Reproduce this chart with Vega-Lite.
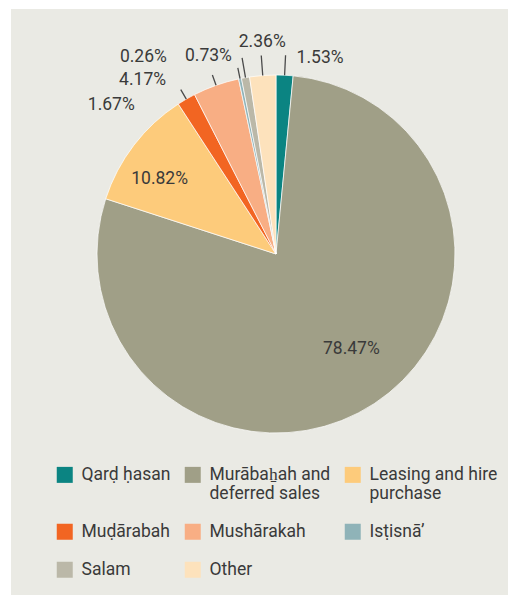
{
  "$schema": "https://vega.github.io/schema/vega-lite/v6.json",
  "background": "white",
  "padding": {"left": 11, "top": 9, "right": 0, "bottom": 0},
  "bounds": "flush",
  "spacing": 0,
  "columns": 2,
  "config": {
    "view": {"fill": "#EAEAE4", "stroke": null},
    "style": {"cell": {"fill": "#EAEAE4", "stroke": null}},
    "concat": {"spacing": 0},
    "font": "Roboto"
  },
  "data": {
    "values": [
      {"idx": 1, "cat": "Qarḍ ḥasan", "value": 1.53, "label": "1.53%"},
      {"idx": 2, "cat": "Murābaẖah and deferred sales", "value": 78.47, "label": "78.47%"},
      {"idx": 3, "cat": "Leasing and hire purchase", "value": 10.82, "label": "10.82%"},
      {"idx": 4, "cat": "Muḍārabah", "value": 1.67, "label": "1.67%"},
      {"idx": 5, "cat": "Mushārakah", "value": 4.17, "label": "4.17%"},
      {"idx": 6, "cat": "Isṭisnā’", "value": 0.26, "label": "0.26%"},
      {"idx": 7, "cat": "Salam", "value": 0.73, "label": "0.73%"},
      {"idx": 8, "cat": "Other", "value": 2.36, "label": "2.36%"}
    ]
  },
  "concat": [
    {"width": 33, "height": 490, "view": {"fill": "#EAEAE4", "stroke": null}, "data": {"values": []}, "mark": "point"},
    {
      "width": 464,
      "height": 490,
      "view": {"fill": "#EAEAE4", "stroke": null},
      "encoding": {
        "theta": {"field": "value", "type": "quantitative", "stack": true},
        "order": {"field": "idx", "type": "quantitative"}
      },
      "layer": [
        {
          "mark": {"type": "arc", "outerRadius": 179, "stroke": "white", "strokeWidth": 0.7},
          "encoding": {
            "color": {
              "field": "cat",
              "type": "nominal",
              "scale": {
                "domain": ["Qarḍ ḥasan", "Murābaẖah and deferred sales", "Leasing and hire purchase", "Muḍārabah", "Mushārakah", "Isṭisnā’", "Salam", "Other"],
                "range": ["#0B8482", "#A09F87", "#FDCB7B", "#F26522", "#F8AE84", "#8FB3B8", "#BBB8A8", "#FDE2BC"]
              },
              "legend": {
                "title": null,
                "orient": "none",
                "legendX": 45,
                "legendY": 457,
                "columns": 3,
                "direction": "horizontal",
                "columnPadding": 13,
                "rowPadding": 19,
                "padding": 0,
                "symbolType": "square",
                "symbolSize": 256,
                "symbolStrokeWidth": 0,
                "symbolOpacity": 1,
                "labelFont": "Roboto",
                "labelFontSize": 17.5,
                "labelColor": "#3a3a3a",
                "labelLimit": 400,
                "labelOffset": 8,
                "labelExpr": "datum.label == 'Murābaẖah and deferred sales' ? ['Murābaẖah and', 'deferred sales'] : datum.label == 'Leasing and hire purchase' ? ['Leasing and hire', 'purchase'] : datum.label == 'Qarḍ ḥasan' ? ['Qarḍ ḥasan', ''] : datum.label",
                "encode": {
                  "symbols": {"update": {"y": {"value": 8}}},
                  "labels": {
                    "update": {
                      "y": {"value": 0.5},
                      "baseline": {"value": "top"},
                      "fontStyle": {"signal": "indexof(['Qarḍ ḥasan', 'Muḍārabah', 'Mushārakah', 'Isṭisnā’'], datum.value) >= 0 ? 'italic' : 'normal'"},
                      "lineHeight": {"value": 21}
                    }
                  }
                }
              }
            }
          }
        },
        {
          "mark": {"type": "arc", "radius": 199, "radius2": 179, "padAngle": 1, "filled": false, "stroke": "#4a4a4a", "strokeWidth": 1.3},
          "encoding": {
            "strokeOpacity": {"condition": {"test": "indexof(['Qarḍ ḥasan', 'Salam', 'Other'], datum.cat) >= 0", "value": 1}, "value": 0}
          }
        },
        {
          "mark": {"type": "arc", "radius": 190, "radius2": 179, "padAngle": 1, "filled": false, "stroke": "#4a4a4a", "strokeWidth": 1.3},
          "encoding": {
            "strokeOpacity": {"condition": {"test": "indexof(['Muḍārabah', 'Mushārakah', 'Isṭisnā’'], datum.cat) >= 0", "value": 1}, "value": 0}
          }
        },
        {
          "mark": {"type": "text", "radius": 121, "dx": 9, "dy": -6, "align": "center", "baseline": "middle", "fontSize": 17.5, "fill": "#3a3a3a"},
          "encoding": {"text": {"condition": {"test": "datum.idx == 2", "field": "label"}, "value": ""}}
        },
        {
          "mark": {"type": "text", "radius": 139, "dx": -6, "dy": 10, "align": "center", "baseline": "middle", "fontSize": 17.5, "fill": "#3a3a3a"},
          "encoding": {"text": {"condition": {"test": "datum.idx == 3", "field": "label"}, "value": ""}}
        },
        {
          "mark": {"type": "text", "radius": 200, "dx": -41, "dy": 24, "align": "right", "baseline": "middle", "fontSize": 17.5, "fill": "#3a3a3a"},
          "encoding": {"text": {"condition": {"test": "datum.idx == 4", "field": "label"}, "value": ""}}
        },
        {
          "mark": {"type": "text", "radius": 200, "dx": -43, "dy": 14.5, "align": "right", "baseline": "middle", "fontSize": 17.5, "fill": "#3a3a3a"},
          "encoding": {"text": {"condition": {"test": "datum.idx == 5", "field": "label"}, "value": ""}}
        },
        {
          "mark": {"type": "text", "radius": 200, "dx": -69, "dy": -1, "align": "right", "baseline": "middle", "fontSize": 17.5, "fill": "#3a3a3a"},
          "encoding": {"text": {"condition": {"test": "datum.idx == 6", "field": "label"}, "value": ""}}
        },
        {
          "mark": {"type": "text", "radius": 200, "dx": -10, "dy": -1, "align": "right", "baseline": "middle", "fontSize": 17.5, "fill": "#3a3a3a"},
          "encoding": {"text": {"condition": {"test": "datum.idx == 7", "field": "label"}, "value": ""}}
        },
        {
          "mark": {"type": "text", "radius": 213, "dx": 2, "dy": 0.4, "align": "center", "baseline": "middle", "fontSize": 17.5, "fill": "#3a3a3a"},
          "encoding": {"text": {"condition": {"test": "datum.idx == 8", "field": "label"}, "value": ""}}
        },
        {
          "mark": {"type": "text", "radius": 200, "dx": 11, "dy": 4, "align": "left", "baseline": "middle", "fontSize": 17.5, "fill": "#3a3a3a"},
          "encoding": {"text": {"condition": {"test": "datum.idx == 1", "field": "label"}, "value": ""}}
        }
      ]
    },
    {"width": 33, "height": 96, "view": {"fill": "#EAEAE4", "stroke": null}, "data": {"values": []}, "mark": "point"},
    {"width": 464, "height": 96, "view": {"fill": "#EAEAE4", "stroke": null}, "data": {"values": []}, "mark": "point"}
  ]
}
